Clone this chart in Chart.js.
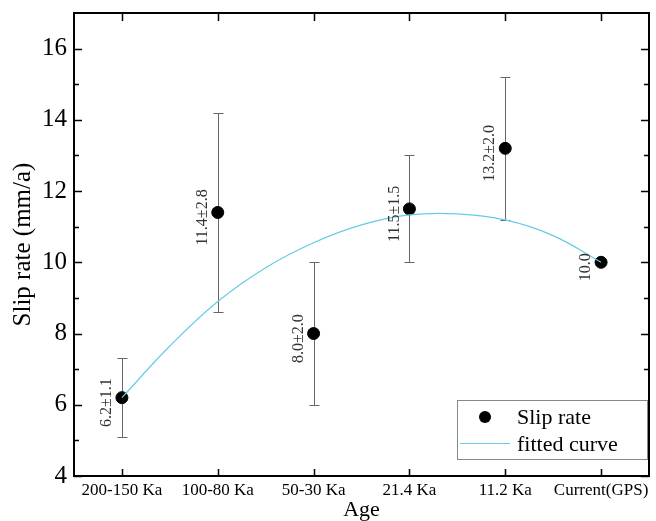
<!DOCTYPE html>
<html>
<head>
<meta charset="utf-8">
<script src="https://cdn.jsdelivr.net/npm/chart.js@4.4.0/dist/chart.umd.min.js"></script>
<style>
body { margin: 0; background: #fff; }
#wrap { width: 656px; height: 521px; }
</style>
</head>
<body>
<div id="wrap"><canvas id="slip_chart" width="656" height="521"></canvas></div>
<script>
// CHART DATA
const age_labels = ['200-150 Ka', '100-80 Ka', '50-30 Ka', '21.4 Ka', '11.2 Ka', 'Current(GPS)'];
const slip_rates = [6.2, 11.4, 8.0, 11.5, 13.2, 10.0];
const slip_errors = [1.1, 2.8, 2.0, 1.5, 2.0, 0];
const value_labels = ['6.2±1.1', '11.4±2.8', '8.0±2.0', '11.5±1.5', '13.2±2.0', '10.0'];

// fitted curve at half steps
const fit_x = [0, 0.5, 1, 1.5, 2, 2.5, 3, 3.5, 4, 4.5, 5];
const fit_y = [6.2, 7.65, 8.9, 9.85, 10.55, 11.05, 11.33, 11.36, 11.19, 10.75, 10.0];

const y_ticks = [4, 6, 8, 10, 12, 14, 16];
const y_minor = [5, 7, 9, 11, 13, 15];

const SERIF = "'Liberation Serif', 'Times New Roman', serif";
const fit_color = '#66cbe4';

// ERROR BARS
const errorBars = {
	id: 'errorBars',
	beforeDatasetsDraw(chart) {
		const ctx = chart.ctx, x = chart.scales.x, y = chart.scales.y;
		ctx.save();
		ctx.strokeStyle = '#666';
		ctx.lineWidth = 1;
		slip_rates.forEach((v, i) => {
			if (!slip_errors[i]) return;
			const px = Math.round(x.getPixelForValue(i)) + 0.5;
			const top = Math.round(y.getPixelForValue(v + slip_errors[i])) + 0.5;
			const bot = Math.round(y.getPixelForValue(v - slip_errors[i])) + 0.5;
			ctx.beginPath();
			ctx.moveTo(px, top); ctx.lineTo(px, bot);
			ctx.moveTo(px - 5, top); ctx.lineTo(px + 5, top);
			ctx.moveTo(px - 5, bot); ctx.lineTo(px + 5, bot);
			ctx.stroke();
		});
		ctx.restore();
	}
};

// VALUE LABELS (rotated)
const valueLabels = {
	id: 'valueLabels',
	afterDatasetsDraw(chart) {
		const ctx = chart.ctx, x = chart.scales.x, y = chart.scales.y;
		ctx.save();
		ctx.fillStyle = '#333';
		ctx.font = '16px ' + SERIF;
		ctx.textAlign = 'center';
		ctx.textBaseline = 'middle';
		slip_rates.forEach((v, i) => {
			ctx.save();
			ctx.translate(x.getPixelForValue(i) - 15, y.getPixelForValue(v) + 5);
			ctx.rotate(-Math.PI / 2);
			ctx.fillText(value_labels[i], 0, 0);
			ctx.restore();
		});
		ctx.restore();
	}
};

// FRAME, INWARD TICKS AND LEGEND
const frameAndLegend = {
	id: 'frameAndLegend',
	afterDraw(chart) {
		const ctx = chart.ctx, a = chart.chartArea, x = chart.scales.x, y = chart.scales.y;
		ctx.save();
		ctx.strokeStyle = '#000';
		ctx.lineWidth = 2;
		ctx.strokeRect(a.left, a.top, a.right - a.left, a.bottom - a.top);

		ctx.lineWidth = 1.5;
		ctx.beginPath();
		y_ticks.forEach(t => {
			const py = Math.round(y.getPixelForValue(t)) + 0.5;
			ctx.moveTo(a.left, py); ctx.lineTo(a.left + 8, py);
			ctx.moveTo(a.right, py); ctx.lineTo(a.right - 8, py);
		});
		y_minor.forEach(t => {
			const py = Math.round(y.getPixelForValue(t)) + 0.5;
			ctx.moveTo(a.left, py); ctx.lineTo(a.left + 5, py);
			ctx.moveTo(a.right, py); ctx.lineTo(a.right - 5, py);
		});
		age_labels.forEach((_, i) => {
			const px = Math.round(x.getPixelForValue(i)) + 0.5;
			ctx.moveTo(px, a.bottom); ctx.lineTo(px, a.bottom - 7);
			ctx.moveTo(px, a.top); ctx.lineTo(px, a.top + 8);
		});
		ctx.stroke();

		// legend box
		const lx = 457, ly = 400, lw = 190, lh = 59;
		ctx.fillStyle = '#fff';
		ctx.fillRect(lx, ly, lw, lh);
		ctx.strokeStyle = '#888';
		ctx.lineWidth = 1;
		ctx.strokeRect(lx + 0.5, ly + 0.5, lw, lh);

		ctx.fillStyle = '#000';
		ctx.beginPath();
		ctx.arc(485, 417, 6, 0, Math.PI * 2);
		ctx.fill();

		ctx.strokeStyle = fit_color;
		ctx.lineWidth = 1.2;
		ctx.beginPath();
		ctx.moveTo(460, 443.5); ctx.lineTo(510, 443.5);
		ctx.stroke();

		ctx.font = '22px ' + SERIF;
		ctx.textAlign = 'left';
		ctx.textBaseline = 'alphabetic';
		ctx.fillText(chart.data.datasets[0].label, 517, 424);
		ctx.fillText(chart.data.datasets[1].label, 517, 451);
		ctx.restore();
	}
};

const ctx = document.getElementById('slip_chart').getContext('2d');

new Chart(ctx, {
	type: 'scatter',
	data: {
		datasets: [{
			label: 'Slip rate',
			data: slip_rates.map((v, i) => ({ x: i, y: v })),
			backgroundColor: '#000',
			borderColor: '#000',
			pointRadius: 6,
			pointHoverRadius: 6,
			order: 1
		}, {
			label: 'fitted curve',
			data: fit_x.map((v, i) => ({ x: v, y: fit_y[i] })),
			showLine: true,
			borderColor: fit_color,
			borderWidth: 1.2,
			pointRadius: 0,
			tension: 0.4,
			order: 0
		}]
	},
	options: {
		responsive: false,
		animation: false,
		layout: { padding: { left: 0, right: 5, top: 13, bottom: 0 } },
		plugins: {
			legend: { display: false },
			tooltip: { enabled: false }
		},
		scales: {
			x: {
				type: 'linear',
				min: -0.5,
				max: 5.5,
				afterBuildTicks: s => { s.ticks = age_labels.map((_, i) => ({ value: i })); },
				afterFit: s => { s.height = 45; s.paddingLeft = 0; s.paddingRight = 0; },
				grid: { display: false, drawTicks: false },
				border: { display: false },
				ticks: {
					autoSkip: false,
					maxRotation: 0,
					padding: 4,
					color: '#000',
					font: { family: SERIF, size: 17 },
					callback: v => age_labels[v]
				},
				title: {
					display: true,
					text: 'Age',
					color: '#000',
					font: { family: SERIF, size: 22, lineHeight: 1 },
					padding: { top: 0, bottom: 0 }
				}
			},
			y: {
				min: 4,
				max: 17,
				afterBuildTicks: s => { s.ticks = y_ticks.map(v => ({ value: v })); },
				afterFit: s => { s.width = 74; s.paddingTop = 0; s.paddingBottom = 0; },
				grid: { display: false, drawTicks: false },
				border: { display: false },
				ticks: {
					padding: 7,
					color: '#000',
					font: { family: SERIF, size: 25 }
				},
				title: {
					display: true,
					text: 'Slip rate (mm/a)',
					color: '#000',
					font: { family: SERIF, size: 25, lineHeight: 1 },
					padding: { top: 11, bottom: 0 }
				}
			}
		}
	},
	plugins: [errorBars, valueLabels, frameAndLegend]
});
</script>
</body>
</html>
